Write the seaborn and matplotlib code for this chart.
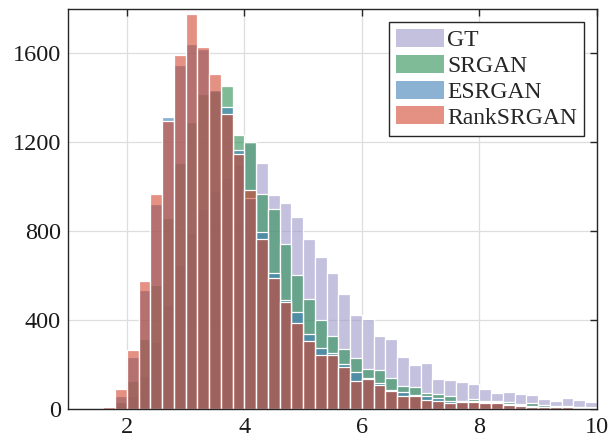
import numpy as np
import pandas as pd
import matplotlib
matplotlib.use("Agg")
import matplotlib.pyplot as plt
from matplotlib.patches import Patch
import seaborn as sns

# bin left edges 1.6 .. 9.8, width 0.2
bin_edges = np.round(np.arange(1.6, 10.0001, 0.2), 1)
bin_centers = np.round(bin_edges[:-1] + 0.1, 2)

gt = [0, 15, 60, 150, 300, 470, 650, 790, 900, 980,
      1040, 1100, 1195, 1106, 962, 929, 865, 766, 685, 610,
      519, 424, 406, 327, 315, 232, 199, 205, 137, 131,
      123, 113, 91, 71, 77, 68, 63, 44, 38, 50,
      41, 32]
srgan = [0, 33, 125, 316, 560, 861, 1109, 1292, 1418, 1430,
         1452, 1233, 1202, 966, 902, 744, 605, 495, 399, 327,
         269, 229, 179, 176, 139, 105, 101, 71, 66, 57,
         36, 44, 35, 37, 32, 23, 26, 18, 14, 14,
         10, 8]
esrgan = [4, 60, 236, 537, 921, 1312, 1550, 1643, 1618, 1437,
          1357, 1166, 951, 798, 613, 492, 437, 337, 274, 250,
          202, 166, 140, 117, 85, 78, 62, 60, 51, 38,
          34, 36, 30, 30, 22, 17, 14, 10, 9, 10,
          7, 5]
ranksrgan = [8, 92, 266, 575, 966, 1297, 1594, 1779, 1630, 1508,
             1327, 1148, 986, 766, 590, 480, 387, 304, 242, 242,
             188, 126, 135, 108, 80, 59, 59, 41, 38, 26,
             33, 32, 26, 27, 18, 14, 11, 8, 7, 8,
             6, 4]

methods = ["GT", "SRGAN", "ESRGAN", "RankSRGAN"]
series = [gt, srgan, esrgan, ranksrgan]
colors = ["#9d98cb", "#2b8f53", "#3f7fb7", "#d2462f"]
alpha = 0.6

x_ticks = [2, 4, 6, 8, 10]
y_ticks = [0, 400, 800, 1200, 1600]

sns.set_theme(style="white")
plt.rcParams["font.family"] = ["Liberation Serif", "DejaVu Serif"]
plt.rcParams["mathtext.fontset"] = "stix"

fig = plt.figure(figsize=(6.11, 4.45), dpi=100)
ax = fig.add_axes([68 / 611, 1 - 409 / 445, (597 - 68) / 611, 400 / 445])
ax.set_axisbelow(True)
ax.grid(True, color="#dedede", linewidth=0.9)

for name, vals, col in zip(methods, series, colors):
    df = pd.DataFrame({"score": bin_centers, "count": vals})
    sns.histplot(data=df, x="score", weights="count",
                 binwidth=0.2, binrange=(float(bin_edges[0]), float(bin_edges[-1])),
                 color=col, alpha=alpha, edgecolor="white", linewidth=0.9,
                 ax=ax)

ax.set_xlim(1, 10)
ax.set_ylim(0, 1800)
ax.set_xticks(x_ticks)
ax.set_yticks(y_ticks)
ax.set_xlabel("")
ax.set_ylabel("")
ax.tick_params(direction="in", length=5, width=1, colors="#262626",
               labelsize=17.5, top=True, right=True,
               labelcolor="#1a1a1a")
ax.tick_params(axis="x", pad=6)
ax.tick_params(axis="y", pad=5)
for sp in ax.spines.values():
    sp.set_visible(True)
    sp.set_color("#262626")
    sp.set_linewidth(1.0)

handles = [Patch(facecolor=c, alpha=alpha, edgecolor="none", label=m)
           for m, c in zip(methods, colors)]
leg = ax.legend(handles=handles, loc="upper right", fontsize=17,
                frameon=True, fancybox=False, framealpha=1,
                edgecolor="#262626", handlelength=2.0, handleheight=0.8,
                labelspacing=0.15, handletextpad=0.15, borderpad=0.3,
                borderaxespad=0.55)
leg.get_frame().set_linewidth(1.0)

fig.savefig("out.png", dpi=100)
